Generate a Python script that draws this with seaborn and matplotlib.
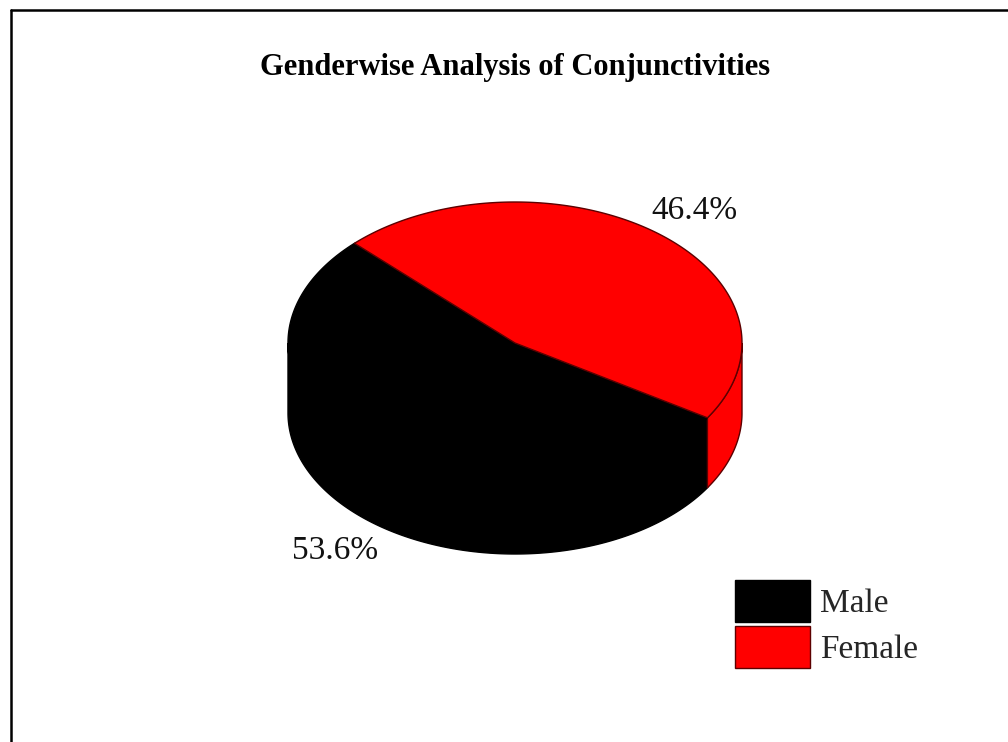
import numpy as np
import matplotlib
matplotlib.use("Agg")
import matplotlib.pyplot as plt
from matplotlib.patches import Polygon, Patch
from matplotlib.lines import Line2D
import seaborn as sns

# ---- data ----
categories = ["Male", "Female"]
percentages = [53.6, 46.4]
slice_colors = ["#000000", "#ff0000"]
edge_colors = ["#000000", "#5c0000"]
title_text = "Genderwise Analysis of Conjunctivities"
start_angle = 135.0  # degrees (counter-clockwise), where the first slice begins

sns.set_theme(style="white")
plt.rcParams['font.family'] = ['Liberation Serif', 'DejaVu Serif']

fig = plt.figure(figsize=(10.08, 7.42), dpi=100)
fig.patch.set_facecolor("white")
ax = fig.add_axes([0, 0, 1, 1])
ax.set_xlim(0, 1008)
ax.set_ylim(742, 0)
ax.axis('off')

# pie geometry (layout)
cx, cy, a, b, depth = 515, 343, 227, 141, 70

total = sum(percentages)
angles = []
t = start_angle
for v in percentages:
    span = 360.0 * v / total
    angles.append((t, t + span))
    t += span


def rim(ts, dy=0.0):
    r = np.radians(ts)
    return np.column_stack([cx + a * np.cos(r), cy - b * np.sin(r) + dy])


# side (front) faces
for (t1, t2), fc, ec in zip(angles, slice_colors, edge_colors):
    for k in (-1, 0, 1):
        lo = max(t1, 180 + 360 * k)
        hi = min(t2, 360 + 360 * k)
        if hi > lo:
            ts = np.linspace(lo, hi, 300)
            pts = np.vstack([rim(ts), rim(ts[::-1], depth)])
            ax.add_patch(Polygon(pts, closed=True, facecolor=fc, edgecolor=ec,
                                 lw=1.0, zorder=2))

# top faces
for (t1, t2), fc, ec in zip(angles, slice_colors, edge_colors):
    ts = np.linspace(t1, t2, 500)
    pts = np.vstack([[cx, cy], rim(ts)])
    ax.add_patch(Polygon(pts, closed=True, facecolor=fc, edgecolor=ec,
                         lw=1.0, zorder=3))

# percentage labels
for (t1, t2), v in zip(angles, percentages):
    m = np.radians((t1 + t2) / 2)
    lx = cx + 1.27 * a * np.cos(m)
    ly = cy - 1.22 * b * np.sin(m) + (depth if np.sin(m) < 0 else 0)
    ax.text(lx, ly + 11, f"{v:.1f}%", ha='center', va='baseline', fontsize=24,
            color='#111111', zorder=5)

# title
ax.text(515, 75, title_text, ha='center', va='baseline', fontsize=22,
        fontweight='bold', color='black')

# legend
handles = [Patch(facecolor=fc, edgecolor=ec, lw=1.0)
           for fc, ec in zip(slice_colors, edge_colors)]
ax.legend(handles, categories, loc='upper left',
          bbox_to_anchor=(735 / 1008, 1 - 580 / 742),
          bbox_transform=fig.transFigure, frameon=False, fontsize=24,
          handlelength=2.25, handleheight=1.56, handletextpad=0.3,
          labelspacing=0.12, borderpad=0, borderaxespad=0)

# figure border (left and top)
fig.add_artist(Line2D([11 / 1008, 11 / 1008], [0, 1 - 9.5 / 742],
                      transform=fig.transFigure, color='black', lw=1.8))
fig.add_artist(Line2D([11 / 1008, 1], [1 - 9.5 / 742, 1 - 9.5 / 742],
                      transform=fig.transFigure, color='black', lw=1.8))

fig.savefig("out.png", dpi=100, facecolor="white")
